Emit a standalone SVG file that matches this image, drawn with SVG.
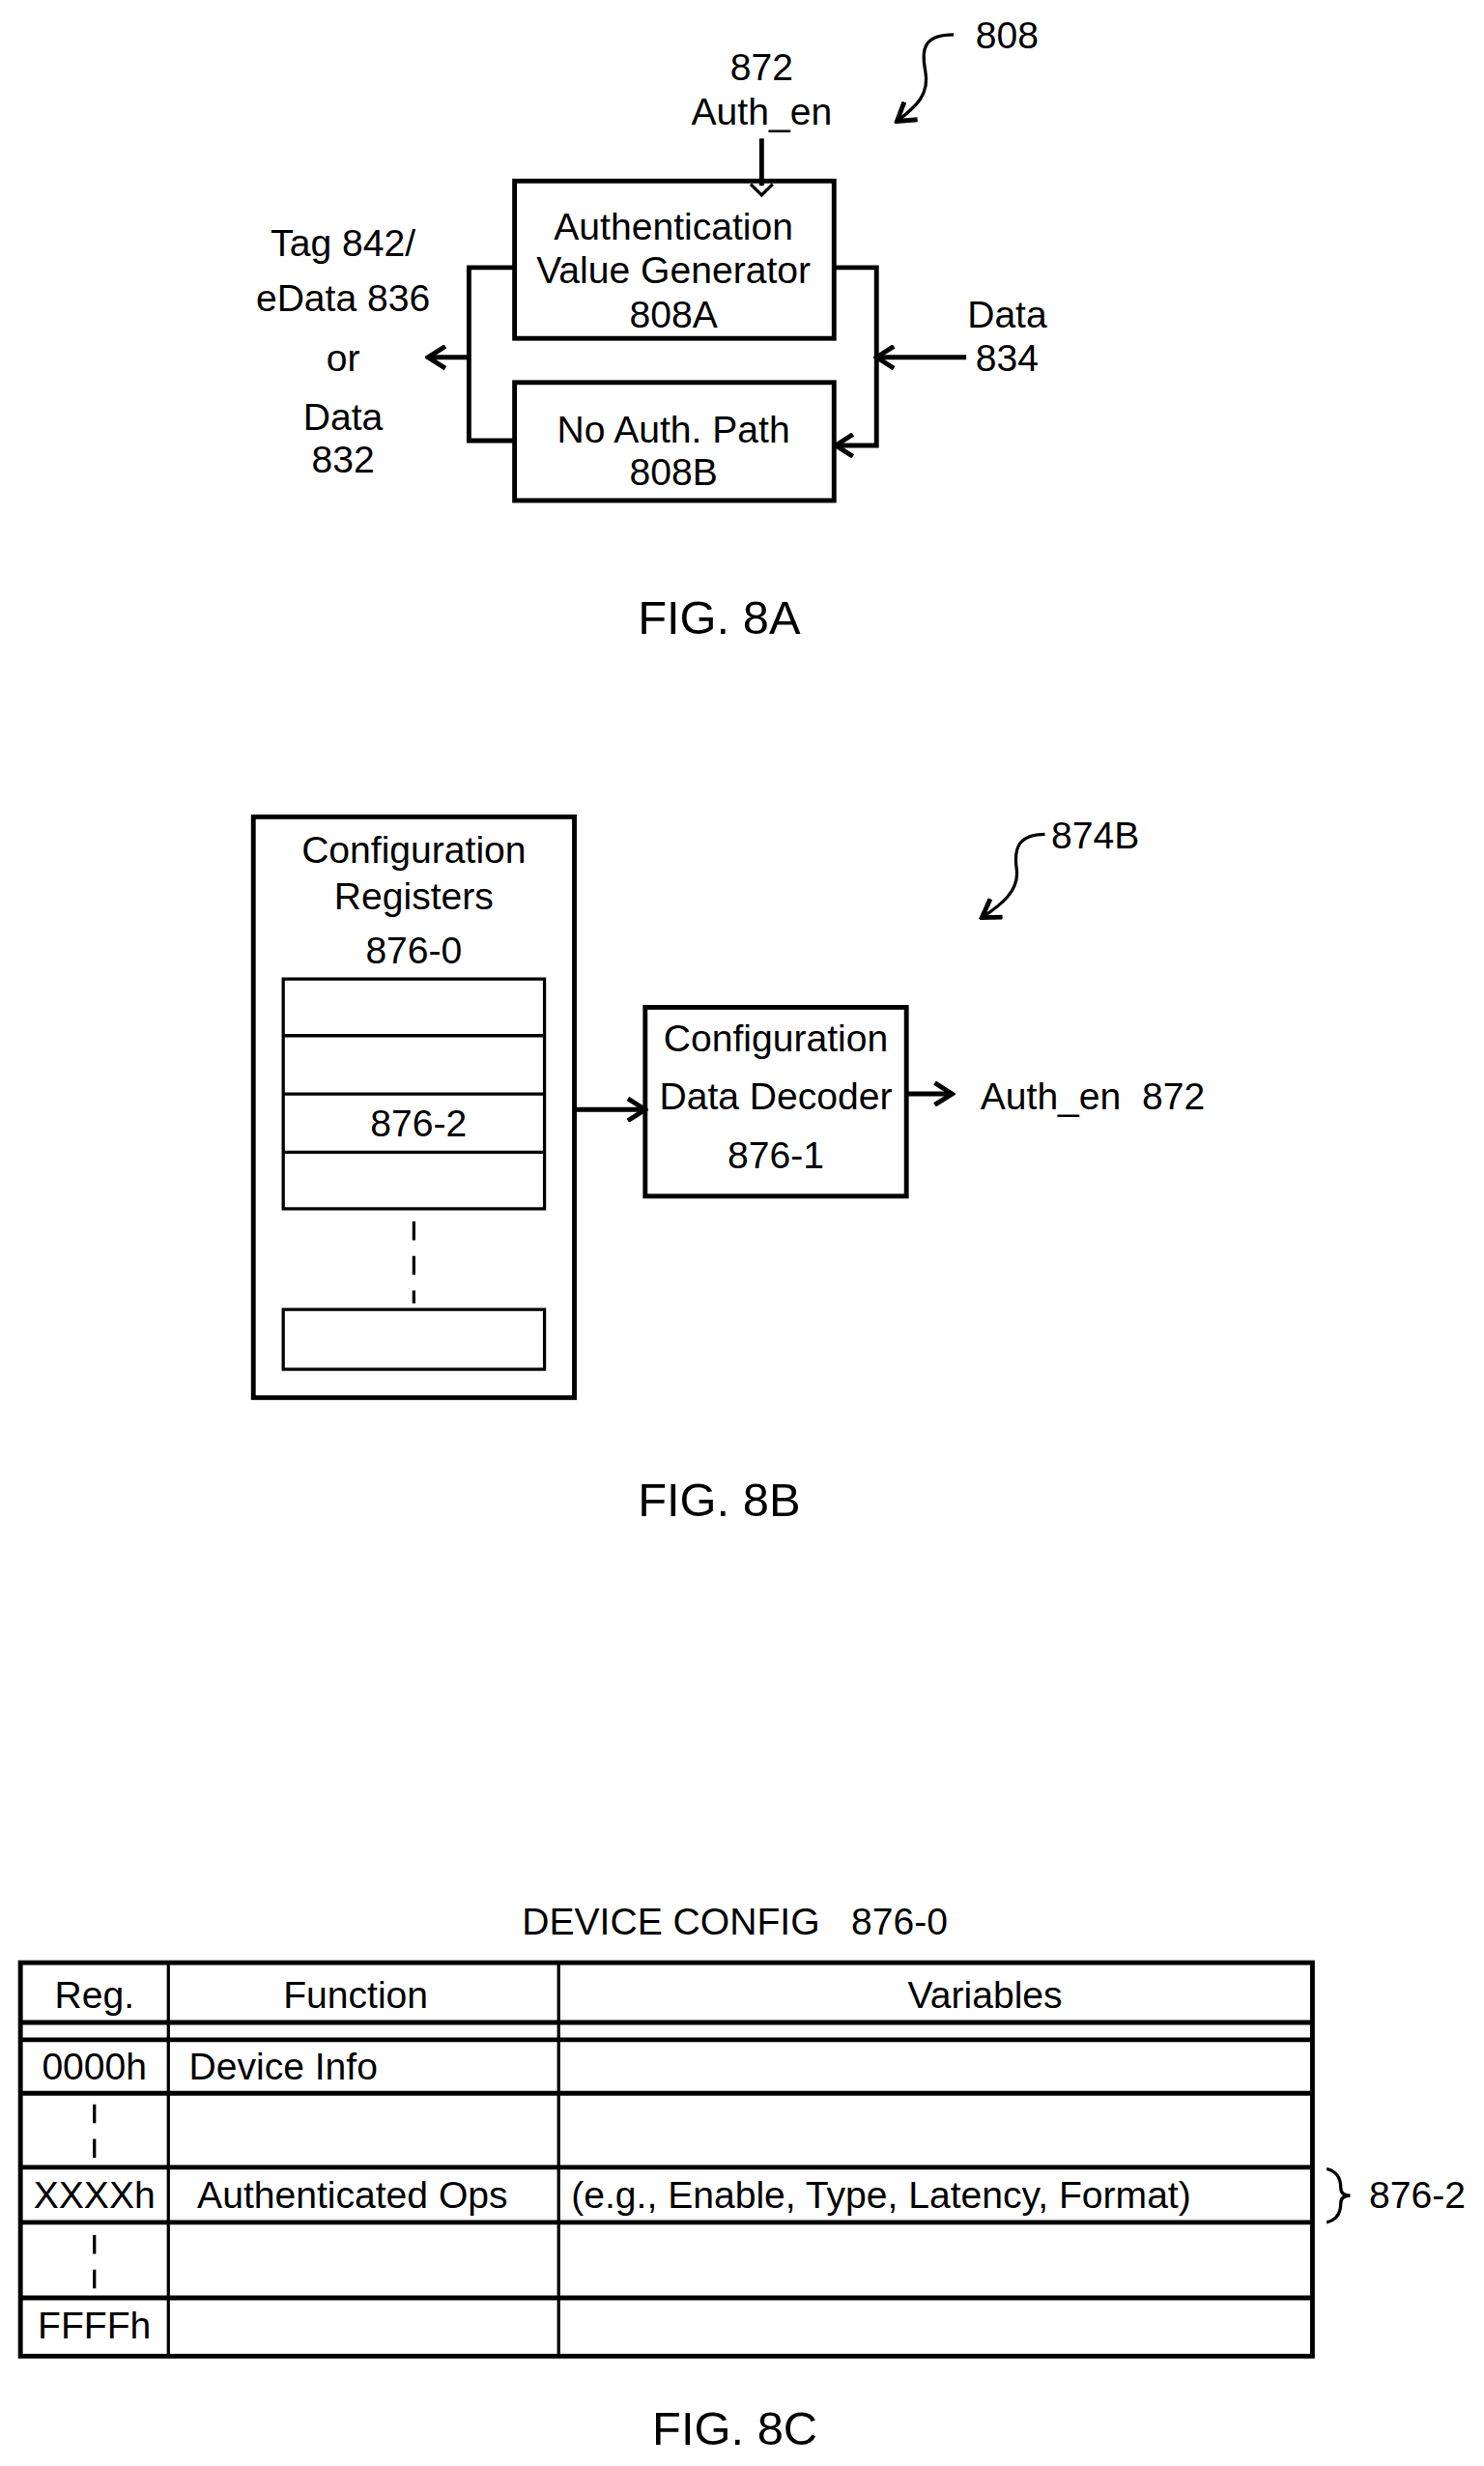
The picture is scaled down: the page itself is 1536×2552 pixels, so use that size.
<svg xmlns="http://www.w3.org/2000/svg" width="1536" height="2552" viewBox="0 0 1536 2552">
<style>
text{font-family:"Liberation Sans",Arial,sans-serif;font-size:24px;fill:#000;white-space:pre}
.c{text-anchor:middle}
.fig{font-size:30px}
.b{fill:none;stroke:#000;stroke-width:3}
.t{fill:none;stroke:#000;stroke-width:2}
.d{fill:none;stroke:#000;stroke-width:2;stroke-dasharray:12,10}
</style>
<defs>
<marker id="ah2" viewBox="0 0 16 16" refX="14" refY="8" markerWidth="16" markerHeight="16" orient="auto" markerUnits="userSpaceOnUse">
<path d="M3,1 L14,8 L3,15" fill="none" stroke="#000" stroke-width="3"/>
</marker>
</defs>
<rect width="1536" height="2552" fill="#fff"/>
<g transform="scale(1.6288)">
<g id="label808"><text x="620" y="31">808</text><path class="t" d="M606,22 C588,22 585,30 588,45 C591,60 582,68 570,77" marker-end="url(#ah2)"/></g>
<g id="authen"><text class="c" x="484" y="51">872</text><text class="c" x="484" y="79">Auth_en</text></g>
<g id="n808A"><rect class="b" x="327" y="115" width="203" height="100"/><text class="c" x="428" y="152">Authentication</text><text class="c" x="428" y="180">Value Generator</text><text class="c" x="428" y="208">808A</text></g>
<g id="n808B"><rect class="b" x="327" y="243" width="203" height="75"/><text class="c" x="428" y="281">No Auth. Path</text><text class="c" x="428" y="308">808B</text></g>
<g id="outlbl"><text class="c" x="218" y="163">Tag 842/</text><text class="c" x="218" y="198">eData 836</text><text class="c" x="218" y="236">or</text><text class="c" x="218" y="273">Data</text><text class="c" x="218" y="300">832</text></g>
<g id="inlbl"><text class="c" x="640" y="208">Data</text><text class="c" x="640" y="236">834</text></g>
<g id="connectorsA">
<path class="b" d="M484,88 V118"/><path class="t" d="M477,117 L484,124 L491,117"/>
<path class="b" d="M327,170 H298 V280 H327"/>
<path class="b" d="M298,227 H272" marker-end="url(#ah2)"/>
<path class="b" d="M530,170 H557 V283 H531" marker-end="url(#ah2)"/>
<path class="b" d="M614,227 H557" marker-end="url(#ah2)"/>
</g>
<text class="c fig" x="457" y="403">FIG. 8A</text>
<g id="label874B"><text x="668" y="539">874B</text><path class="t" d="M664,530 C648,530 644,538 646,552 C648,566 636,575 624,583" marker-end="url(#ah2)"/></g>
<g id="regs"><rect class="b" x="161" y="519" width="204" height="369"/>
<text class="c" x="263" y="548">Configuration</text><text class="c" x="263" y="578">Registers</text><text class="c" x="263" y="612">876-0</text>
<rect class="t" x="180" y="622" width="166" height="146"/><path class="t" d="M180,658 H346 M180,695 H346 M180,732 H346"/>
<text class="c" x="266" y="722">876-2</text>
<path class="d" d="M263,776 V828"/>
<rect class="t" x="180" y="832" width="166" height="38"/></g>
<g id="decoder"><rect class="b" x="410" y="640" width="166" height="120"/><text class="c" x="493" y="668">Configuration</text><text class="c" x="493" y="705">Data Decoder</text><text class="c" x="493" y="742">876-1</text></g>
<g id="authen2"><text x="623" y="705">Auth_en  872</text></g>
<g id="connectorsB"><path class="b" d="M365,705 H410" marker-end="url(#ah2)"/><path class="b" d="M576,695 H605" marker-end="url(#ah2)"/></g>
<text class="c fig" x="457" y="963">FIG. 8B</text>
<g id="table">
<text class="c" x="467" y="1229">DEVICE CONFIG   876-0</text>
<rect class="b" x="13" y="1247" width="821" height="250"/>
<path class="t" d="M107,1247 V1497 M355,1247 V1497"/>
<path class="b" d="M13,1285 H834 M13,1296 H834 M13,1330 H834 M13,1377 H834 M13,1412 H834 M13,1460 H834"/>
<path class="d" d="M60,1337 V1372 M60,1420 V1455" stroke-dasharray="10,8"/>
<text class="c" x="60" y="1276">Reg.</text><text class="c" x="226" y="1276">Function</text><text class="c" x="626" y="1276">Variables</text>
<text class="c" x="60" y="1321">0000h</text><text x="120" y="1321">Device Info</text>
<text class="c" x="60" y="1403">XXXXh</text><text class="c" x="224" y="1403">Authenticated Ops</text><text x="363" y="1403">(e.g., Enable, Type, Latency, Format)</text>
<text class="c" x="60" y="1486">FFFFh</text>
</g>
<g id="brace"><path class="t" d="M843,1378 Q852,1380 852,1390 Q852,1395 858,1395 Q852,1395 852,1400 Q852,1410 843,1412"/><text x="870" y="1403">876-2</text></g>
<text class="c fig" x="467" y="1553">FIG. 8C</text>
</g>
</svg>
